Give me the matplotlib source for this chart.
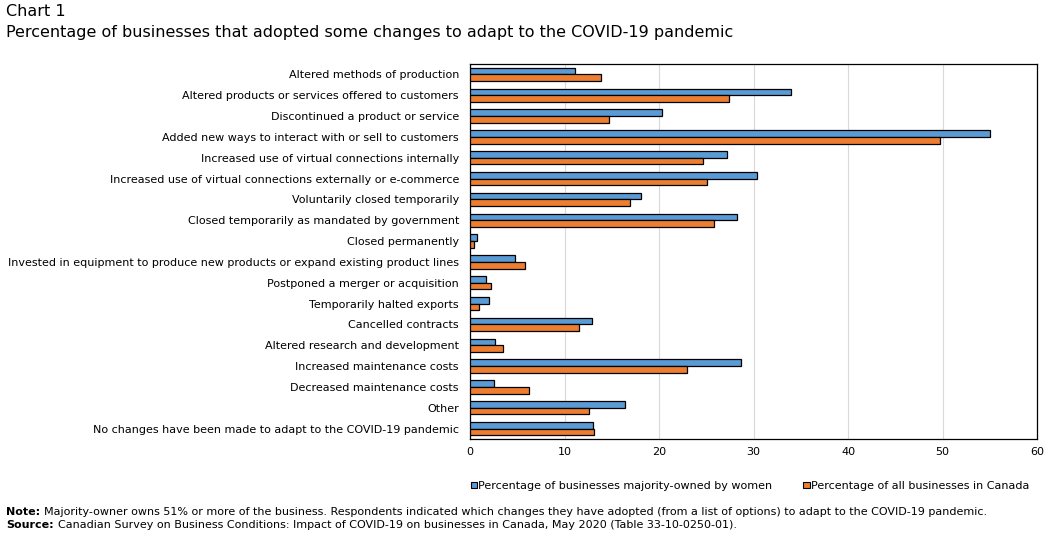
import matplotlib
matplotlib.use('Agg')
import matplotlib.pyplot as plt
import numpy as np

# Категории и значения (в процентах)
categories = [
    'Altered methods of production',
    'Altered products or services offered to customers',
    'Discontinued a product or service',
    'Added new ways to interact with or sell to customers',
    'Increased use of virtual connections internally',
    'Increased use of virtual connections externally or e-commerce',
    'Voluntarily closed temporarily',
    'Closed temporarily as mandated by government',
    'Closed permanently',
    'Invested in equipment to produce new products or expand existing product lines',
    'Postponed a merger or acquisition',
    'Temporarily halted exports',
    'Cancelled contracts',
    'Altered research and development',
    'Increased maintenance costs',
    'Decreased maintenance costs',
    'Other',
    'No changes have been made to adapt to the COVID-19 pandemic',
]
women = [11.1, 34.0, 20.3, 55.0, 27.2, 30.4, 18.1, 28.3, 0.7, 4.8,
         1.7, 2.0, 12.9, 2.6, 28.7, 2.5, 16.4, 13.0]
canada = [13.9, 27.4, 14.7, 49.7, 24.7, 25.1, 16.9, 25.8, 0.4, 5.8,
          2.2, 0.9, 11.5, 3.5, 23.0, 6.2, 12.6, 13.1]
series_names = ['Percentage of businesses majority-owned by women',
                'Percentage of all businesses in Canada']
xticks = [0, 10, 20, 30, 40, 50, 60]

plt.rcParams['font.family'] = 'DejaVu Sans'

W, H = 1059, 549
fig = plt.figure(figsize=(W / 100, H / 100), dpi=100)
ax = fig.add_axes([470 / W, 1 - 439 / H, 567 / W, 375 / H])

y = np.arange(len(categories))
h = 0.32
ax.barh(y - h / 2, women, height=h, color='#5b9bd5', edgecolor='black',
        linewidth=0.9, label=series_names[0], zorder=3)
ax.barh(y + h / 2, canada, height=h, color='#ed7d31', edgecolor='black',
        linewidth=0.9, label=series_names[1], zorder=3)

ax.set_yticks(y)
ax.set_yticklabels(categories, fontsize=8)
ax.set_ylim(len(categories) - 0.5, -0.5)
ax.set_xlim(0, 60)
ax.set_xticks(xticks)
ax.tick_params(axis='x', labelsize=8, length=0, pad=6)
ax.tick_params(axis='y', length=0, pad=8)
ax.grid(axis='x', color='#d9d9d9', linewidth=0.8, zorder=0)
for s in ax.spines.values():
    s.set_linewidth(0.9)

leg = ax.legend(loc='center', bbox_to_anchor=(750 / W, 1 - 486 / H),
                bbox_transform=fig.transFigure, ncol=2, frameon=False, fontsize=8,
                handlelength=0.55, handleheight=0.55, handletextpad=0.1,
                columnspacing=2.8)
for p in leg.get_patches():
    p.set_linewidth(0.8)

fig.text(6 / W, 1 - 12 / H, 'Chart 1', fontsize=11.5, va='center')
fig.text(6 / W, 1 - 32 / H,
         'Percentage of businesses that adopted some changes to adapt to the COVID-19 pandemic',
         fontsize=11.5, va='center')

# Примечание и источник: жирный заголовок, затем обычный текст
renderer = fig.canvas.get_renderer()
notes = [
    ('Note:', 'Majority-owner owns 51% or more of the business. Respondents indicated which changes they have adopted (from a list of options) to adapt to the COVID-19 pandemic.', 512),
    ('Source:', 'Canadian Survey on Business Conditions: Impact of COVID-19 on businesses in Canada, May 2020 (Table 33-10-0250-01).', 525),
]
for head, body, ypix in notes:
    t = fig.text(6 / W, 1 - ypix / H, head, fontsize=8, fontweight='bold', va='center')
    bb = t.get_window_extent(renderer)
    fig.text((bb.x1 + 4) / W, 1 - ypix / H, body, fontsize=8, va='center')

fig.savefig('out.png', dpi=100)
